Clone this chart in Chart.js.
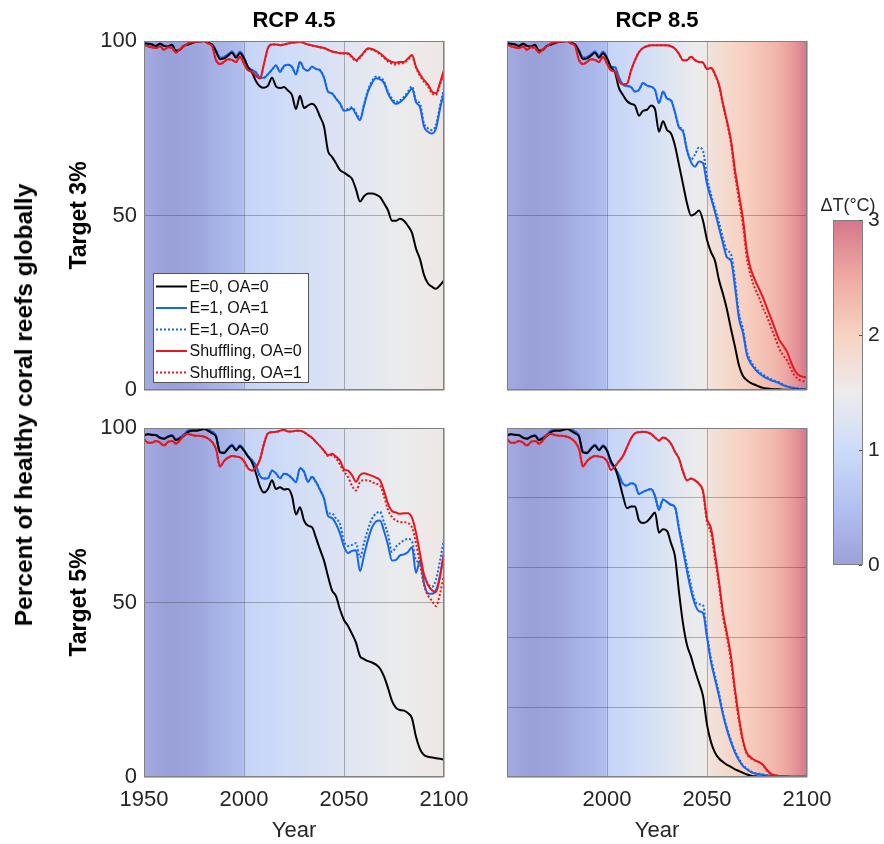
<!DOCTYPE html>
<html><head><meta charset="utf-8">
<script src="https://cdn.jsdelivr.net/npm/chart.js@4.4.1/dist/chart.umd.min.js"></script>
<style>
html,body{margin:0;padding:0;background:#fff;}
#wrap{position:relative;width:884px;height:844px;overflow:hidden;font-family:"Liberation Sans",Arial,Helvetica,sans-serif;}
canvas{position:absolute;left:0;top:0;}
#ylab{position:absolute;left:24px;top:405px;transform:translate(-50%,-50%) rotate(-90deg);white-space:nowrap;font-weight:bold;font-size:24.5px;color:#000;}
</style></head>
<body><div id="wrap">
<canvas id="c1" width="884" height="844"></canvas>
<canvas id="c2" width="884" height="844"></canvas>
<canvas id="c3" width="884" height="844"></canvas>
<canvas id="c4" width="884" height="844"></canvas>
<canvas id="cb" width="884" height="844"></canvas>
<div id="ylab">Percent of healthy coral reefs globally</div>
</div>
<script>
const FONT = '"Liberation Sans", Arial, Helvetica, sans-serif';
Chart.defaults.font.family = FONT;
Chart.defaults.font.size = 22;
Chart.defaults.color = '#262626';

// ---------------- DATA ----------------
const years = [1950,1952,1954,1956,1958,1960,1962,1964,1966,1968,
1970,1972,1974,1976,1978,1980,1982,1984,1986,1988,
1990,1992,1994,1996,1998,2000,2002,2004,2006,2008,
2010,2012,2014,2016,2018,2020,2022,2024,2026,2028,
2030,2032,2034,2036,2038,2040,2042,2044,2046,2048,
2050,2052,2054,2056,2058,2060,2062,2064,2066,2068,
2070,2072,2074,2076,2078,2080,2082,2084,2086,2088,
2090,2092,2094,2096,2098,2100];

const seriesLabels = ['E=0, OA=0','E=1, OA=1','E=1, OA=0','Shuffling, OA=0','Shuffling, OA=1'];
const panelTitles = ['RCP 4.5','RCP 8.5'];
const rowTitles = ['Target 3%','Target 5%'];
const xTitle = 'Year';
const colorbarTitle = 'ΔT(°C)';
const xTicks = [1950, 2000, 2050, 2100];
const cbTicks = [0, 1, 2, 3];

// RCP 4.5, Target 3%
const rcp45t3_E0OA0 = [99.3,99.2,99.0,98.6,99.2,98.6,98.4,98.9,97.2,97.5,
98.6,99.0,99.4,99.8,99.9,100,99.5,99.0,97.0,94.8,
95.0,95.8,96.6,95.2,96.5,95.0,92.5,91.0,88.5,87.0,
86.6,87.2,89.5,87.0,86.5,86.8,85.8,84.5,80.5,84.3,
80.8,81.5,82.0,81.0,78.3,75.5,68.5,66.8,65.0,63.0,
62.3,61.5,60.5,57.5,54.0,55.5,56.3,56.3,56.0,55.3,
53.5,51.5,48.5,48.5,49.1,48.5,47.0,45.0,40.5,37.5,
33.0,30.5,29.6,29.0,30.0,31.4];
const rcp45t3_E1OA1 = [99.3,99.2,99.0,98.6,99.2,98.6,98.4,98.9,97.2,97.5,
98.6,99.0,99.4,99.8,99.9,100,99.5,99.0,97.3,95.2,
95.4,96.2,97.0,95.6,96.9,95.3,92.6,91.7,91.0,89.5,
89.5,90.5,91.8,93.0,91.2,92.8,93.2,92.6,90.5,94.0,
92.0,91.5,92.6,92.0,91.6,89.5,85.5,85.0,83.5,82.1,
80.0,80.2,80.7,79.0,77.3,81.5,85.5,88.0,89.3,89.0,
88.0,85.0,83.0,82.0,82.5,83.5,85.0,86.4,82.5,81.0,
75.5,74.0,73.5,75.0,80.5,85.5];
const rcp45t3_E1OA0 = [99.3,99.2,99.0,98.6,99.2,98.6,98.4,98.9,97.2,97.5,
98.6,99.0,99.4,99.8,99.9,100,99.5,99.0,97.3,95.2,
95.4,96.2,97.0,95.6,96.9,95.3,92.6,91.7,91.0,89.5,
89.5,90.5,91.8,93.0,91.2,92.8,93.2,92.6,90.5,94.0,
92.0,91.5,92.6,92.0,91.6,89.5,85.5,85.0,83.5,82.1,
80.2,80.5,81.0,79.4,77.8,81.8,86.0,88.5,89.8,89.5,
88.5,85.5,83.5,82.5,83.0,84.0,85.5,87.0,83.0,82.0,
76.5,75.0,74.5,76.0,81.5,86.5];
const rcp45t3_ShOA0 = [98.9,98.5,98.2,98.0,98.4,97.5,98.2,98.0,96.7,97.6,
98.5,99.3,99.6,99.8,99.9,100,99.3,98.6,94.5,93.4,
94.0,94.8,94.6,94.0,95.5,93.5,91.6,91.2,90.0,89.3,
93.5,98.0,99.0,99.0,98.8,99.0,99.3,99.5,99.6,99.8,
99.4,99.0,98.7,98.5,98.2,98.0,97.5,97.0,96.8,96.5,
96.5,96.5,95.5,94.5,95.5,96.8,97.9,97.7,97.2,96.5,
95.5,94.5,94.0,93.8,94.0,94.0,95.0,96.0,92.6,90.5,
88.8,87.5,85.5,85.0,88.0,91.7];
const rcp45t3_ShOA1 = [98.9,98.5,98.2,98.0,98.4,97.5,98.2,98.0,96.7,97.6,
98.5,99.3,99.6,99.8,99.9,100,99.3,98.6,94.5,93.4,
94.0,94.8,94.6,94.0,95.5,93.5,91.6,91.2,90.0,89.3,
93.5,98.0,99.0,99.0,98.8,99.0,99.3,99.5,99.6,99.8,
99.4,99.0,98.7,98.5,98.2,98.0,97.5,97.0,96.8,96.5,
96.4,96.3,95.3,94.2,95.2,96.6,97.7,97.5,97.0,96.2,
95.2,94.1,93.5,93.3,93.6,93.7,94.7,95.7,92.3,90.0,
88.3,87.0,85.0,84.6,87.5,91.0];

// RCP 8.5, Target 3%
const rcp85t3_E0OA0 = [99.3,99.2,99.0,98.6,99.2,98.6,98.4,98.9,97.2,97.5,
98.6,99.0,99.4,99.8,99.9,100,99.5,99.0,97.0,94.8,
95.0,95.8,96.6,95.2,96.5,95.0,92.5,91.0,86.5,84.5,
82.8,82.0,81.5,78.6,80.0,80.3,81.5,80.5,74.0,77.0,
74.5,73.5,70.0,64.5,59.0,53.5,50.0,50.5,51.4,48.5,
43.0,39.5,37.0,31.5,27.5,23.0,17.5,12.4,7.0,4.0,
2.8,2.0,1.5,1.0,0.6,0.4,0.3,0.2,0.2,0.1,
0.1,0.1,0.1,0.1,0.1,0.1];
const rcp85t3_E1OA1 = [99.3,99.2,99.0,98.6,99.2,98.6,98.4,98.9,97.2,97.5,
98.6,99.0,99.4,99.8,99.9,100,99.5,99.0,97.3,95.2,
95.4,96.2,97.0,95.6,96.9,95.3,92.6,92.5,89.5,87.5,
87.1,86.8,85.5,86.0,88.0,87.2,86.9,86.0,82.2,85.5,
83.5,83.0,79.5,75.2,74.0,68.6,65.3,64.0,65.5,65.0,
59.0,55.0,51.0,46.5,42.0,38.0,37.0,29.5,20.5,16.3,
10.0,7.5,6.0,4.8,4.0,3.3,2.8,2.4,2.0,1.4,
1.0,0.7,0.5,0.3,0.2,0.2];
const rcp85t3_E1OA0 = [99.3,99.2,99.0,98.6,99.2,98.6,98.4,98.9,97.2,97.5,
98.6,99.0,99.4,99.8,99.9,100,99.5,99.0,97.3,95.2,
95.4,96.2,97.0,95.6,96.9,95.3,92.6,92.5,89.5,87.5,
87.1,86.8,85.5,86.0,88.0,87.2,86.9,86.0,82.2,85.5,
83.5,83.0,79.5,75.5,74.5,69.0,66.0,67.5,69.5,68.5,
61.0,56.0,52.0,48.0,43.5,40.0,39.0,31.5,22.0,17.5,
11.0,8.2,6.5,5.3,4.4,3.7,3.1,2.6,2.2,1.6,
1.1,0.8,0.6,0.4,0.3,0.2];
const rcp85t3_ShOA0 = [98.9,98.5,98.2,98.0,98.4,97.5,98.2,98.0,96.7,97.6,
98.5,99.3,99.6,99.8,99.9,100,99.3,98.6,94.5,93.4,
94.0,94.8,94.6,94.0,95.5,93.5,91.6,91.2,88.5,87.6,
87.8,91.5,94.5,96.8,98.0,98.5,98.8,98.8,98.8,98.8,
98.8,98.5,97.8,96.3,94.5,94.5,95.5,94.5,94.0,93.8,
92.0,92.3,90.5,87.5,82.0,77.0,71.5,63.0,56.0,49.0,
39.5,34.5,31.5,29.0,26.5,23.5,20.5,17.5,14.5,12.8,
11.0,8.0,5.5,4.2,3.8,3.6];
const rcp85t3_ShOA1 = [98.9,98.5,98.2,98.0,98.4,97.5,98.2,98.0,96.7,97.6,
98.5,99.3,99.6,99.8,99.9,100,99.3,98.6,94.5,93.4,
94.0,94.8,94.6,94.0,95.5,93.5,91.6,91.2,88.5,87.6,
87.8,91.5,94.5,96.8,98.0,98.5,98.8,98.8,98.8,98.8,
98.8,98.5,97.8,96.3,94.5,94.5,95.5,94.5,94.0,93.8,
92.0,92.2,90.3,87.2,81.6,76.5,70.5,61.5,54.5,47.0,
37.5,32.5,29.0,26.5,23.5,21.0,18.0,15.0,12.0,10.0,
8.5,6.0,4.0,3.0,2.6,2.4];

// RCP 4.5, Target 5%
const rcp45t5_E0OA0 = [97.8,98.2,98.0,97.9,97.2,96.9,97.5,97.8,96.5,97.0,
97.8,98.8,99.2,99.2,99.4,99.7,99.2,98.5,97.5,93.0,
92.8,94.0,95.0,93.6,94.8,93.5,91.8,90.2,87.0,83.2,
81.5,82.5,85.0,82.5,83.0,82.4,82.5,80.5,75.2,77.3,
73.5,72.0,71.6,68.5,65.2,62.0,57.5,53.5,51.8,48.0,
45.0,43.3,41.0,38.5,34.6,33.8,33.2,32.8,32.2,31.1,
28.8,25.5,21.8,19.8,19.2,19.0,18.3,16.8,11.5,8.0,
6.3,5.8,5.6,5.4,5.2,5.0];
const rcp45t5_E1OA1 = [97.9,98.3,98.1,98.0,97.3,97.0,97.6,97.9,96.8,97.3,
98.2,99.3,99.7,99.8,99.9,100,99.6,99.0,97.8,93.2,
93.0,94.2,95.2,93.8,95.0,93.7,92.0,90.8,89.2,86.2,
85.5,85.6,87.8,87.0,85.6,86.9,86.6,85.6,84.5,88.5,
87.5,84.6,86.0,84.5,82.3,79.8,74.8,74.2,72.5,69.8,
66.0,64.2,64.8,65.0,59.0,63.5,68.0,71.5,73.2,73.5,
70.5,66.5,62.0,62.2,63.5,63.8,64.5,65.8,58.5,62.0,
55.6,52.6,52.5,53.5,57.5,64.5];
const rcp45t5_E1OA0 = [97.9,98.3,98.1,98.0,97.3,97.0,97.6,97.9,96.8,97.3,
98.2,99.3,99.7,99.8,99.9,100,99.6,99.0,97.8,93.2,
93.0,94.2,95.2,93.8,95.0,93.7,92.0,90.8,89.2,86.2,
85.5,85.6,87.8,87.0,85.6,86.9,86.6,85.6,84.5,88.5,
87.5,84.6,86.0,84.5,82.3,79.8,75.5,75.5,74.0,72.5,
67.5,66.2,66.5,67.0,63.0,67.0,71.0,74.0,75.5,76.0,
73.0,69.5,64.5,66.0,67.0,67.8,68.2,67.5,62.0,61.5,
58.0,55.4,54.5,56.5,62.0,68.3];
const rcp45t5_ShOA0 = [96.9,95.8,95.8,96.3,95.8,95.0,96.0,96.3,95.5,96.5,
98.0,98.3,98.0,97.8,97.7,97.5,97.0,96.0,94.0,89.0,
90.5,91.5,92.0,91.8,91.6,90.5,88.5,87.8,88.8,91.0,
95.5,98.5,98.8,98.9,99.2,99.5,99.0,99.0,99.2,99.2,
98.8,98.0,97.2,96.0,94.8,93.5,92.2,92.6,91.8,90.7,
88.2,87.8,86.5,84.6,86.5,87.0,86.7,86.3,85.8,85.0,
82.0,78.3,76.2,75.8,75.4,75.6,75.6,74.3,70.0,64.0,
58.0,55.0,53.5,53.0,57.6,64.0];
const rcp45t5_ShOA1 = [96.9,95.8,95.8,96.3,95.8,95.0,96.0,96.3,95.5,96.5,
98.0,98.3,98.0,97.8,97.7,97.5,97.0,96.0,94.0,89.0,
90.5,91.5,92.0,91.8,91.6,90.5,88.5,87.8,88.8,91.0,
95.5,98.5,98.8,98.9,99.2,99.5,99.0,99.0,99.2,99.2,
98.8,98.0,97.2,96.0,94.8,93.5,92.0,92.2,91.3,89.5,
87.5,86.0,83.5,82.1,84.5,85.0,85.0,84.5,84.0,83.5,
80.5,76.5,74.5,73.5,73.0,73.0,72.8,71.5,67.0,61.0,
55.0,52.0,50.5,49.0,52.5,58.0];

// RCP 8.5, Target 5%
const rcp85t5_E0OA0 = [97.8,98.2,98.0,97.9,97.2,96.9,97.5,97.8,96.5,97.0,
97.8,98.8,99.2,99.2,99.4,99.7,99.2,98.5,97.5,93.0,
92.8,94.0,95.0,93.6,94.8,93.5,90.5,88.5,85.0,80.5,
77.0,77.5,77.5,73.5,72.8,73.2,74.5,75.8,70.0,71.0,
70.5,67.0,63.2,53.0,44.0,37.8,34.5,30.5,27.0,23.2,
15.0,10.0,7.0,5.3,4.3,3.5,2.9,2.2,1.7,1.2,
0.7,0.4,0.2,0.1,0.1,0,0,0,0,0,
0,0,0,0,0,0];
const rcp85t5_E1OA1 = [97.9,98.3,98.1,98.0,97.3,97.0,97.6,97.9,96.8,97.3,
98.2,99.3,99.7,99.8,99.9,100,99.6,99.0,97.8,93.2,
93.0,94.2,95.2,93.8,95.0,93.7,89.8,88.5,86.5,84.0,
83.5,84.2,83.8,81.1,81.7,82.2,82.5,80.5,76.6,79.5,
78.8,78.0,77.3,71.0,65.0,59.0,53.5,49.5,47.5,47.0,
40.0,33.0,28.0,23.2,17.8,13.5,10.0,7.0,4.8,3.1,
2.2,1.4,1.0,0.8,0.6,0.4,0.3,0.2,0.2,0.1,
0.1,0.1,0.1,0.1,0.1,0.1];
const rcp85t5_E1OA0 = [97.9,98.3,98.1,98.0,97.3,97.0,97.6,97.9,96.8,97.3,
98.2,99.3,99.7,99.8,99.9,100,99.6,99.0,97.8,93.2,
93.0,94.2,95.2,93.8,95.0,93.7,89.8,88.5,86.5,84.0,
83.5,84.2,83.8,81.1,81.7,82.2,82.5,80.5,76.6,79.5,
78.8,78.0,77.3,71.5,66.0,60.5,55.0,50.5,49.5,49.2,
41.0,34.0,29.0,24.0,18.5,14.0,10.5,7.5,5.2,3.4,
2.4,1.6,1.1,0.9,0.7,0.5,0.4,0.3,0.2,0.2,
0.1,0.1,0.1,0.1,0.1,0.1];
const rcp85t5_ShOA0 = [96.9,95.8,95.8,96.3,95.8,95.0,96.0,96.3,95.5,96.5,
98.0,98.3,98.0,97.8,97.7,97.5,97.0,96.0,94.0,89.0,
90.5,91.5,92.0,91.8,91.6,90.5,88.0,89.0,90.5,92.0,
94.5,97.0,98.5,98.8,98.9,98.8,98.3,97.3,96.4,97.3,
96.8,95.5,93.2,91.2,87.5,85.0,85.5,85.0,84.0,82.0,
74.0,71.3,64.0,56.0,47.0,41.0,34.5,25.0,17.0,10.5,
6.8,5.6,4.8,4.3,3.5,2.0,0.9,0.5,0.3,0.2,
0.2,0.1,0.1,0.1,0.1,0.1];
const rcp85t5_ShOA1 = [96.9,95.8,95.8,96.3,95.8,95.0,96.0,96.3,95.5,96.5,
98.0,98.3,98.0,97.8,97.7,97.5,97.0,96.0,94.0,89.0,
90.5,91.5,92.0,91.8,91.6,90.5,88.0,89.0,90.5,92.0,
94.5,97.0,98.5,98.8,98.9,98.8,98.3,97.3,96.4,97.3,
96.8,95.5,93.2,91.2,87.5,85.0,85.5,85.0,84.0,81.5,
73.0,70.0,62.5,55.0,46.0,40.0,33.0,24.0,16.0,10.0,
6.5,5.4,4.7,4.2,3.4,1.8,0.8,0.4,0.3,0.2,
0.2,0.1,0.1,0.1,0.1,0.1];

// Warming (background shading), °C
const tempYears45 = [1950,1955,1960,1965,1970,1975,1980,1985,1990,1995,1999.5,2000,2005,2010,2020,2030,2040,2050,2060,2070,2080,2090,2100];
const tempRcp45   = [0.18,0.08,0.0,0.0,0.03,0.06,0.15,0.25,0.30,0.38,0.45,0.85,0.88,0.93,1.02,1.10,1.18,1.27,1.35,1.42,1.49,1.55,1.60];
const tempYears85 = [1950,1955,1960,1965,1970,1975,1980,1985,1990,1995,1999.5,2000,2005,2010,2015,2020,2025,2030,2035,2040,2045,2049.5,2050,2055,2060,2065,2070,2075,2080,2085,2090,2095,2100];
const tempRcp85   = [0.18,0.08,0.0,0.0,0.03,0.06,0.15,0.25,0.30,0.38,0.45,0.85,0.90,0.96,1.03,1.10,1.18,1.26,1.34,1.42,1.48,1.52,1.68,1.77,1.87,1.96,2.05,2.15,2.25,2.38,2.55,2.75,3.0];

// ---------------- STYLE ----------------
const cmapStops  = [0, 0.5, 1, 1.5, 2, 2.5, 3];
const cmapColors = ['#9aa1d9','#b2c0f1','#cddbf9','#ececec','#f8d2c2','#eeaaa2','#d5778b'];
const lineStyles = [
  {color:'#000000', dash:[], order:2},
  {color:'#1466ee', dash:[], order:3},
  {color:'#1466ee', dash:[2,2], order:4},
  {color:'#e8161e', dash:[], order:1},
  {color:'#e8161e', dash:[2,2], order:0}
];

function hexToRgb(h){ const n = parseInt(h.slice(1),16); return [(n>>16)&255,(n>>8)&255,n&255]; }
function cmap(v){
  if (v <= cmapStops[0]) return cmapColors[0];
  const last = cmapStops.length-1;
  if (v >= cmapStops[last]) return cmapColors[last];
  for (let i=0;i<last;i++){
    if (v >= cmapStops[i] && v <= cmapStops[i+1]){
      const t = (v-cmapStops[i])/(cmapStops[i+1]-cmapStops[i]);
      const a = hexToRgb(cmapColors[i]), b = hexToRgb(cmapColors[i+1]);
      const c = a.map((x,k)=>Math.round(x+(b[k]-x)*t));
      return 'rgb('+c[0]+','+c[1]+','+c[2]+')';
    }
  }
  return cmapColors[last];
}

const bgData = {
  c1:{years:tempYears45, values:tempRcp45},
  c2:{years:tempYears85, values:tempRcp85},
  c3:{years:tempYears45, values:tempRcp45},
  c4:{years:tempYears85, values:tempRcp85}
};

const bgPlugin = {
  id:'tempBg',
  beforeDraw(chart){
    const d = bgData[chart.canvas.id]; if (!d) return;
    const {ctx, chartArea:ca, scales:{x}} = chart;
    const x0 = x.getPixelForValue(d.years[0]);
    const x1 = x.getPixelForValue(d.years[d.years.length-1]);
    const g = ctx.createLinearGradient(x0,0,x1,0);
    d.years.forEach((yr,i)=>{
      const p = Math.min(1, Math.max(0, (x.getPixelForValue(yr)-x0)/(x1-x0)));
      g.addColorStop(p, cmap(d.values[i]));
    });
    ctx.save(); ctx.fillStyle = g;
    ctx.fillRect(ca.left, ca.top, ca.right-ca.left, ca.bottom-ca.top);
    ctx.restore();
  }
};

const framePlugin = {
  id:'frame',
  afterDatasetsDraw(chart){
    const {ctx, chartArea:ca} = chart;
    ctx.save(); ctx.strokeStyle = '#808080'; ctx.lineWidth = 1;
    ctx.strokeRect(Math.round(ca.left)+0.5, Math.round(ca.top)+0.5, Math.round(ca.right-ca.left)-1, Math.round(ca.bottom-ca.top)-1);
    ctx.restore();
  }
};

const legendPlugin = {
  id:'boxLegend',
  afterDraw(chart){
    if (chart.canvas.id !== 'c1') return;
    const {ctx, chartArea:ca} = chart;
    const w = 155, h = 109, rowH = 21.5;
    const x0 = Math.round(ca.left + 9), y0 = Math.round(ca.bottom - 8 - h);
    ctx.save();
    ctx.fillStyle = '#ffffff'; ctx.fillRect(x0, y0, w, h);
    ctx.strokeStyle = '#555555'; ctx.lineWidth = 1;
    ctx.strokeRect(x0+0.5, y0+0.5, w, h);
    ctx.font = '16px ' + FONT; ctx.textBaseline = 'middle'; ctx.textAlign = 'left';
    chart.data.datasets.forEach((ds,i)=>{
      const yy = y0 + 13.5 + i*rowH;
      ctx.strokeStyle = ds.borderColor; ctx.lineWidth = 2;
      ctx.setLineDash(ds.borderDash || []);
      ctx.beginPath(); ctx.moveTo(x0+3, yy); ctx.lineTo(x0+34, yy); ctx.stroke();
      ctx.setLineDash([]);
      ctx.fillStyle = '#111111';
      ctx.fillText(ds.label, x0+36.5, yy+1);
    });
    ctx.restore();
  }
};

function makeDatasets(arrs){
  return arrs.map((a,i)=>({
    label: seriesLabels[i],
    data: years.map((yr,k)=>({x:yr, y:a[k]})),
    borderColor: lineStyles[i].color,
    borderDash: lineStyles[i].dash,
    borderWidth: 2,
    pointRadius: 0,
    fill: false,
    cubicInterpolationMode: 'monotone',
    order: lineStyles[i].order
  }));
}

const GRID = 'rgba(40,40,40,0.32)';

function panel(id, arrs, cfg){
  const yW = cfg.yLabels ? 78 : 0;
  const xH = cfg.xLabels ? 67 : 0;
  const titleH = cfg.title ? 38.4 : 0;
  new Chart(document.getElementById(id), {
    type:'line',
    data:{datasets: makeDatasets(arrs)},
    options:{
      responsive:false, animation:false, events:[], devicePixelRatio:1,
      layout:{padding:{left: cfg.left - yW, right: 884 - cfg.right, top: cfg.top - titleH, bottom: 844 - cfg.bottom - xH}},
      plugins:{
        legend:{display:false}, tooltip:{enabled:false},
        title:{display: !!cfg.title, text: cfg.title || '', fullSize:false, color:'#000',
               font:{size:22, weight:'bold'}, padding:{top:5, bottom:7}}
      },
      scales:{
        x:{type:'linear', min:1950, max:2100,
           afterBuildTicks: s => { s.ticks = xTicks.map(v=>({value:v})); },
           ticks:{display: !!cfg.xLabels, padding:10, font:{size:22}, color:'#262626',
                  callback: v => (cfg.skip1950 && v===1950) ? '' : String(v)},
           grid:{color:GRID, lineWidth:1, drawTicks:false},
           border:{display:false},
           title:{display: !!cfg.xLabels, text: xTitle, font:{size:22}, color:'#262626', padding:{top:0,bottom:0}},
           afterFit: s => { s.height = xH; }
        },
        y:{type:'linear', min:0, max:100,
           ticks:{display: !!cfg.yLabels, stepSize: cfg.yStep, padding:7, font:{size:22}, color:'#262626',
                  callback: v => String(v)},
           grid:{color:GRID, lineWidth:1, drawTicks:false},
           border:{display:false},
           title:{display: !!cfg.rowTitle, text: cfg.rowTitle || '', color:'#000', font:{size:23, weight:'bold'}, padding:{top:0,bottom:0}},
           afterFit: s => { s.width = yW; }
        }
      }
    },
    plugins:[bgPlugin, framePlugin, legendPlugin]
  });
}

panel('c1', [rcp45t3_E0OA0, rcp45t3_E1OA1, rcp45t3_E1OA0, rcp45t3_ShOA0, rcp45t3_ShOA1],
  {left:144, right:444, top:41, bottom:390, yLabels:true, xLabels:false, yStep:50, title:panelTitles[0], rowTitle:rowTitles[0]});
panel('c2', [rcp85t3_E0OA0, rcp85t3_E1OA1, rcp85t3_E1OA0, rcp85t3_ShOA0, rcp85t3_ShOA1],
  {left:507, right:807, top:41, bottom:390, yLabels:false, xLabels:false, yStep:50, title:panelTitles[1]});
panel('c3', [rcp45t5_E0OA0, rcp45t5_E1OA1, rcp45t5_E1OA0, rcp45t5_ShOA0, rcp45t5_ShOA1],
  {left:144, right:444, top:428, bottom:777, yLabels:true, xLabels:true, yStep:50, rowTitle:rowTitles[1]});
panel('c4', [rcp85t5_E0OA0, rcp85t5_E1OA1, rcp85t5_E1OA0, rcp85t5_ShOA0, rcp85t5_ShOA1],
  {left:507, right:807, top:428, bottom:777, yLabels:false, xLabels:true, yStep:20, skip1950:true});

// ---------------- COLORBAR ----------------
const cbPlugin = {
  id:'cbar',
  beforeDraw(chart){
    const {ctx, chartArea:ca, scales:{y}} = chart;
    const y0 = y.getPixelForValue(cmapStops[0]), y1 = y.getPixelForValue(cmapStops[cmapStops.length-1]);
    const g = ctx.createLinearGradient(0, y0, 0, y1);
    cmapStops.forEach((s,i)=> g.addColorStop((s-cmapStops[0])/(cmapStops[cmapStops.length-1]-cmapStops[0]), cmapColors[i]));
    ctx.save(); ctx.fillStyle = g;
    ctx.fillRect(ca.left, ca.top, ca.right-ca.left, ca.bottom-ca.top);
    ctx.strokeStyle = '#808080'; ctx.lineWidth = 1;
    ctx.strokeRect(Math.round(ca.left)+0.5, Math.round(ca.top)+0.5, Math.round(ca.right-ca.left)-1, Math.round(ca.bottom-ca.top)-1);
    // small inward tick marks on the right edge
    ctx.strokeStyle = '#555555';
    y.ticks.forEach(t => {
      const py = Math.round(y.getPixelForValue(t.value)) + 0.5;
      ctx.beginPath(); ctx.moveTo(ca.right-1, py); ctx.lineTo(ca.right-4, py); ctx.stroke();
    });
    ctx.restore();
  },
  afterDraw(chart){
    const {ctx, chartArea:ca} = chart;
    ctx.save(); ctx.font = '18px ' + FONT; ctx.fillStyle = '#262626';
    ctx.textAlign = 'center'; ctx.textBaseline = 'middle';
    ctx.fillText(colorbarTitle, (ca.left+ca.right)/2, ca.top - 14);
    ctx.restore();
  }
};
new Chart(document.getElementById('cb'), {
  type:'line',
  data:{datasets:[]},
  options:{
    responsive:false, animation:false, events:[], devicePixelRatio:1,
    layout:{padding:{left:833, right:0, top:220, bottom:844-565}},
    plugins:{legend:{display:false}, tooltip:{enabled:false}},
    scales:{
      x:{type:'linear', display:false, min:0, max:1},
      y:{type:'linear', position:'right', min:cbTicks[0], max:cbTicks[cbTicks.length-1],
         afterBuildTicks: s => { s.ticks = cbTicks.map(v=>({value:v})); },
         ticks:{padding:5, font:{size:21}, color:'#262626', callback: v => String(v)},
         grid:{display:false, drawTicks:false}, border:{display:false},
         afterFit: s => { s.width = 884-863; }
      }
    }
  },
  plugins:[cbPlugin]
});
</script>
</body></html>
